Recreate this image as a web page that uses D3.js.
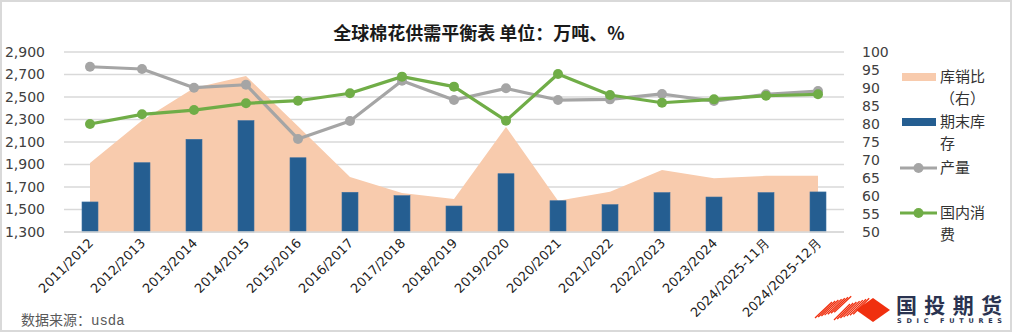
<!DOCTYPE html>
<html><head><meta charset="utf-8">
<script src="https://cdn.jsdelivr.net/npm/d3@7"></script>
<style>body{margin:0;background:#fff}svg{display:block}</style>
</head><body>
<script>
const categories = ["2011/2012","2012/2013","2013/2014","2014/2015","2015/2016","2016/2017","2017/2018","2018/2019","2019/2020","2020/2021","2021/2022","2022/2023","2023/2024","2024/2025-11月","2024/2025-12月"];
const stockRatio = [69.2, 81, 90, 93.3, 79.4, 65.3, 60.8, 59.2, 79.2, 58.7, 61.2, 67.2, 64.9, 65.6, 65.6];
const endStock = [1567, 1916, 2124, 2290, 1960, 1653, 1623, 1531, 1818, 1578, 1543, 1650, 1611, 1650, 1656];
const production = [2769, 2749, 2583, 2609, 2127, 2287, 2645, 2473, 2577, 2473, 2479, 2527, 2464, 2524, 2553];
const consumption = [2260, 2346, 2384, 2444, 2467, 2533, 2681, 2592, 2290, 2704, 2518, 2449, 2479, 2511, 2524];
const leftTicks = [1300,1500,1700,1900,2100,2300,2500,2700,2900];
const rightTicks = [50,55,60,65,70,75,80,85,90,95,100];
const title = "全球棉花供需平衡表 单位：万吨、%";

const W = 1012, H = 332;
const svg = d3.select("body").append("svg").attr("width", W).attr("height", H);
const cjk = "'Noto Sans CJK SC', sans-serif";
const num = "'DejaVu Sans', sans-serif";

svg.append("rect").attr("x",1).attr("y",1).attr("width",W-2).attr("height",H-2)
  .attr("fill","#fff").attr("stroke","#d9d9d9").attr("stroke-width",2);

const x = d3.scaleBand().domain(categories).range([64, 844]).padding(0);
const yL = d3.scaleLinear().domain([1300, 2900]).range([232, 52]);
const yR = d3.scaleLinear().domain([50, 100]).range([232, 52]);
const cx = d => x(d) + x.bandwidth()/2;

// gridlines
svg.append("g").selectAll("line").data(leftTicks).join("line")
  .attr("x1", 64).attr("x2", 844).attr("y1", d => yL(d)).attr("y2", d => yL(d))
  .attr("stroke", "#d9d9d9").attr("stroke-width", 1.3);

// left axis
const gl = svg.append("g").attr("transform","translate(45,0)")
  .call(d3.axisLeft(yL).tickValues(leftTicks).tickSize(0).tickPadding(0).tickFormat(d3.format(",")));
gl.select(".domain").remove();
gl.selectAll("text").attr("font-family", num).attr("font-size", 14).attr("fill", "#404040");

// right axis
const gr = svg.append("g").attr("transform","translate(860,0)")
  .call(d3.axisRight(yR).tickValues(rightTicks).tickSize(0).tickPadding(2));
gr.select(".domain").remove();
gr.selectAll("text").attr("font-family", num).attr("font-size", 14).attr("fill", "#404040");

// area
const area = d3.area().x((d,i) => cx(categories[i])).y0(yR(50)).y1(d => yR(d));
svg.append("path").datum(stockRatio).attr("d", area).attr("fill", "#F8CBAD");

// bars
const bw = 16;
svg.append("g").selectAll("rect").data(endStock).join("rect")
  .attr("x", (d,i) => cx(categories[i]) - bw/2).attr("width", bw)
  .attr("y", d => yL(d)).attr("height", d => yL(1300) - yL(d))
  .attr("fill", "#255E91").attr("stroke","#3a6fa0").attr("stroke-width",0.6);

// baseline
svg.append("line").attr("x1",64).attr("x2",844).attr("y1",yL(1300)).attr("y2",yL(1300))
  .attr("stroke","#d9d9d9").attr("stroke-width",1.3);

// lines
function drawLine(data, color) {
  const line = d3.line().x((d,i) => cx(categories[i])).y(d => yL(d));
  svg.append("path").datum(data).attr("d", line).attr("fill","none")
    .attr("stroke", color).attr("stroke-width", 3.2).attr("stroke-linejoin","round");
  svg.append("g").selectAll("circle").data(data).join("circle")
    .attr("cx", (d,i) => cx(categories[i])).attr("cy", d => yL(d)).attr("r", 5)
    .attr("fill", color);
}
drawLine(production, "#A5A5A5");
drawLine(consumption, "#70AD47");

// x axis labels
const gx = svg.append("g").attr("transform", `translate(0,${yL(1300)})`)
  .call(d3.axisBottom(x).tickSize(0).tickPadding(0));
gx.select(".domain").remove();
gx.selectAll("text").attr("font-family", num).attr("font-size", 13).attr("fill", "#222")
  .attr("text-anchor","end").attr("dy", null).attr("y", 0)
  .attr("transform", "translate(4,12) rotate(-45)");

// title
svg.append("text").attr("x", 479).attr("y", 40).attr("text-anchor","middle")
  .attr("font-family", cjk).attr("font-size", 18).attr("font-weight", "bold")
  .attr("fill", "#1a1a1a").text(title);

// legend
const lg = svg.append("g").attr("font-family", cjk).attr("font-size", 15).attr("fill", "#333");
lg.append("rect").attr("x",902).attr("y",73).attr("width",34).attr("height",8).attr("fill","#F8CBAD");
lg.append("text").attr("x",940).attr("y",82).text("库销比");
lg.append("text").attr("x",940).attr("y",104).text("（右）");
lg.append("rect").attr("x",902).attr("y",118).attr("width",34).attr("height",8).attr("fill","#255E91");
lg.append("text").attr("x",940).attr("y",127).text("期末库");
lg.append("text").attr("x",940).attr("y",149).text("存");
[["#A5A5A5",168,["产量"]],["#70AD47",213,["国内消","费"]]].forEach(([c,y,t]) => {
  lg.append("line").attr("x1",900).attr("x2",937).attr("y1",y).attr("y2",y).attr("stroke",c).attr("stroke-width",3.2);
  lg.append("circle").attr("cx",918.5).attr("cy",y).attr("r",5).attr("fill",c);
  t.forEach((s,k) => lg.append("text").attr("x",940).attr("y",y+5+k*22).text(s));
});

// source
const src = svg.append("text").attr("x", 21).attr("y", 325).attr("font-size", 14).attr("fill", "#595959");
src.append("tspan").attr("font-family", cjk).text("数据来源：");
src.append("tspan").attr("font-family", "'Liberation Mono', monospace").text("usda");

// logo
const logo = svg.append("g");
const red = "#F0300F";
logo.append("path").attr("d","M856,310 L873,298 L890,310 L873,322 Z").attr("fill", red);
for (let k = 0; k < 7; k++) {
  const o = k * 3.2;
  logo.append("line").attr("x1", 815 + o).attr("y1", 318 - o*0.3).attr("x2", 832 + o).attr("y2", 302 - o*0.3 + 0)
    .attr("stroke", red).attr("stroke-width", 1.3);
  logo.append("line").attr("x1", 834 + o).attr("y1", 320 - o*0.3).attr("x2", 850 + o).attr("y2", 304 - o*0.3)
    .attr("stroke", red).attr("stroke-width", 1.3);
}
logo.append("text").attr("x", 896).attr("y", 313).attr("font-family", cjk).attr("font-size", 21)
  .attr("font-weight","bold").attr("fill", "#2a3350").attr("textLength", 106).text("国投期货");
logo.append("text").attr("x", 897).attr("y", 323).attr("font-family", num).attr("font-size", 6.5)
  .attr("font-weight","bold").attr("fill", "#2a3350").attr("textLength", 105).text("SDIC FUTURES");
</script>
</body></html>
